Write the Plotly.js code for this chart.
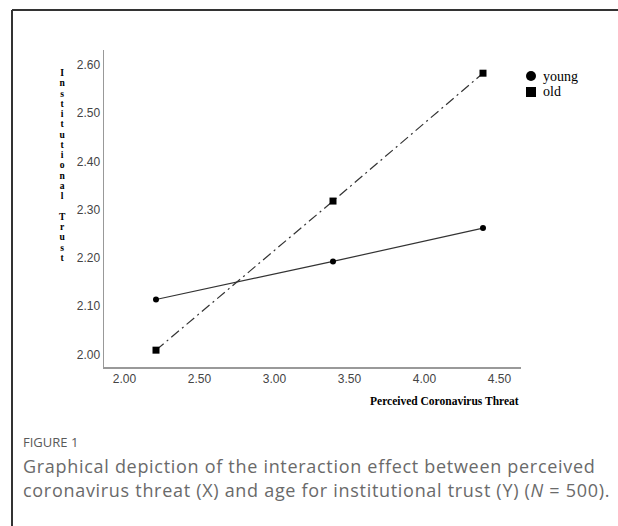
<!DOCTYPE html>
<html>
<head>
<meta charset="utf-8">
<script src="https://cdn.plot.ly/plotly-3.0.1.min.js"></script>
<style>
html,body{margin:0;padding:0;background:#fff;}
#chart{width:618px;height:526px;}
</style>
</head>
<body>
<div id="chart"></div>
<script>
// ---- data ----
var threat = [2.21, 3.39, 4.39];
var youngTrust = [2.114, 2.193, 2.262];
var oldTrust = [2.009, 2.318, 2.583];
var seriesNames = ['young', 'old'];
var xTicks = [2.0, 2.5, 3.0, 3.5, 4.0, 4.5];
var xTickText = ['2.00', '2.50', '3.00', '3.50', '4.00', '4.50'];
var yTicks = [2.0, 2.1, 2.2, 2.3, 2.4, 2.5, 2.6];
var yTickText = ['2.00', '2.10', '2.20', '2.30', '2.40', '2.50', '2.60'];
var yTitle = 'Institutional Trust';
var xTitle = 'Perceived Coronavirus Threat';
var figLabel = 'FIGURE 1';
var captionLines = [
  'Graphical depiction of the interaction effect between perceived',
  'coronavirus threat (X) and age for institutional trust (Y) (<i>N</i> = 500).'
];

// ---- layout geometry (pixels) ----
var W = 618, H = 526;
var L = 104, R = 521, T = 50, B = 367;
function px(x) { return (x - L) / (R - L); }
function py(y) { return (B - y) / (B - T); }

var traces = [
  {
    x: threat, y: youngTrust, name: seriesNames[0], type: 'scatter', mode: 'lines+markers',
    line: {color: '#333333', width: 1.2},
    marker: {symbol: 'circle', size: 6, color: '#000'},
    showlegend: false
  },
  {
    x: threat, y: oldTrust, name: seriesNames[1], type: 'scatter', mode: 'lines+markers',
    line: {color: '#333333', width: 1.2, dash: '10px,4px,2px,4px'},
    marker: {symbol: 'square', size: 7, color: '#000'},
    showlegend: false
  }
];

var annotations = [];
var shapes = [];

// frame
shapes.push({type: 'line', xref: 'paper', yref: 'paper', x0: px(12), y0: py(10), x1: px(W + 2), y1: py(10), line: {color: '#333', width: 2}});
shapes.push({type: 'line', xref: 'paper', yref: 'paper', x0: px(12), y0: py(10), x1: px(12), y1: py(H + 2), line: {color: '#333', width: 2}});

// legend
shapes.push({type: 'circle', xref: 'paper', yref: 'paper', x0: px(526), x1: px(536), y0: py(71), y1: py(81), fillcolor: '#000', line: {color: '#000', width: 0}});
shapes.push({type: 'rect', xref: 'paper', yref: 'paper', x0: px(526), x1: px(536), y0: py(87), y1: py(97), fillcolor: '#000', line: {color: '#000', width: 0}});
annotations.push({xref: 'paper', yref: 'paper', x: px(541), y: py(76), xanchor: 'left', yanchor: 'middle', showarrow: false, text: seriesNames[0], font: {family: 'Liberation Serif', size: 14, color: '#000'}});
annotations.push({xref: 'paper', yref: 'paper', x: px(541), y: py(92), xanchor: 'left', yanchor: 'middle', showarrow: false, text: seriesNames[1], font: {family: 'Liberation Serif', size: 14, color: '#000'}});

// vertical stacked y title: one text, line pitch ~10.3px (7.9px * 1.3)
var stacked = yTitle.split('').map(function (ch) {
  return '<span style="font-size:9.6px"><b>' + (ch === ' ' ? '\u00a0' : ch) + '</b></span>';
}).join('<br>');
annotations.push({xref: 'paper', yref: 'paper', x: px(62), y: py(165), xanchor: 'center', yanchor: 'middle', align: 'center', showarrow: false, text: stacked, font: {family: 'Liberation Serif', size: 7.9, color: '#000'}});

// x title
annotations.push({xref: 'paper', yref: 'paper', x: px(521), y: py(401), xanchor: 'right', yanchor: 'middle', showarrow: false, text: '<b>' + xTitle + '</b>', font: {family: 'Liberation Serif', size: 11.5, color: '#000'}});

// caption
annotations.push({xref: 'paper', yref: 'paper', x: px(21), y: py(442), xanchor: 'left', yanchor: 'middle', showarrow: false, text: figLabel, font: {family: 'Open Sans', size: 13, color: '#5a5a5a'}});
captionLines.forEach(function (t, i) {
  annotations.push({xref: 'paper', yref: 'paper', x: px(21), y: py(466 + 24 * i), xanchor: 'left', yanchor: 'middle', showarrow: false, text: '<span style="letter-spacing:0.7px">' + t + '</span>', font: {family: 'Open Sans', size: 18, color: '#6a6a6a'}});
});

var layout = {
  width: W, height: H,
  margin: {l: L, r: W - R, t: T, b: H - B, pad: 0},
  paper_bgcolor: '#fff', plot_bgcolor: '#fff',
  showlegend: false,
  xaxis: {
    range: [2 - (124.5 - L) / 150, 2 + (R - 124.5) / 150],
    tickvals: xTicks, ticktext: xTickText,
    showgrid: false, zeroline: false, showline: true, linecolor: '#999', linewidth: 1.5,
    ticks: '', tickfont: {family: 'Liberation Sans', size: 12, color: '#444'}
  },
  yaxis: {
    range: [2 - (B - 354.5) / 482.5, 2 + (354.5 - T) / 482.5],
    tickvals: yTicks, ticktext: yTickText,
    showgrid: false, zeroline: false, showline: true, linecolor: '#999', linewidth: 1.5,
    ticks: '', tickfont: {family: 'Liberation Sans', size: 12, color: '#444'}
  },
  shapes: shapes,
  annotations: annotations
};

Plotly.newPlot('chart', traces, layout, {displayModeBar: false, staticPlot: true});
</script>
</body>
</html>
